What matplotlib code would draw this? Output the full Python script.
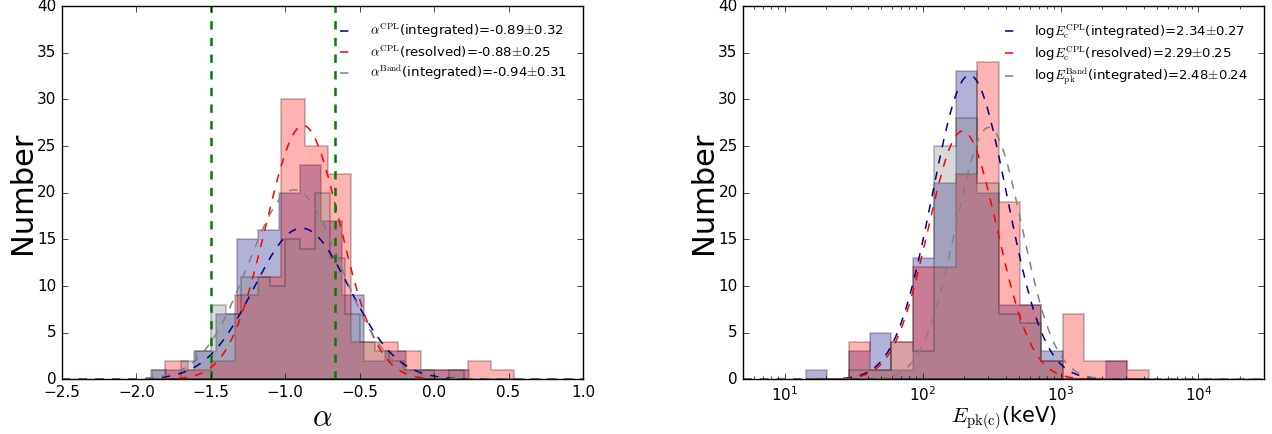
import numpy as np
import matplotlib
matplotlib.use("Agg")
import matplotlib.pyplot as plt
from matplotlib.colors import to_rgba

plt.style.use('classic')
plt.rcParams['figure.facecolor'] = 'white'
plt.rcParams['savefig.facecolor'] = 'white'

# ---- alpha distributions (bin edges + counts) ----
alpha_int_edges = np.linspace(-1.894, 0.236, 16)
alpha_int_counts = [1, 1, 3, 7, 15, 16, 20, 23, 17, 9, 2, 3, 1, 1, 1]
alpha_res_edges = np.linspace(-1.81, 0.54, 16)
alpha_res_counts = [2, 1, 2, 9, 11, 30, 25, 22, 4, 4, 3, 1, 1, 2, 1]
alpha_band_edges = np.linspace(-1.9, 0.2, 22)
alpha_band_counts = [1, 0, 2, 3, 8, 7, 11, 11, 10, 15, 14, 20, 13, 7, 4, 3, 2, 1, 1, 0, 1]

# gaussian fits: mean, sigma, peak height
alpha_fits = [(-0.89, 0.32, 16.2), (-0.88, 0.25, 27.2), (-0.94, 0.31, 20.3)]
alpha_labels = [r'$\alpha^{\rm CPL}$(integrated)=-0.89$\pm$0.32',
                r'$\alpha^{\rm CPL}$(resolved)=-0.88$\pm$0.25',
                r'$\alpha^{\rm Band}$(integrated)=-0.94$\pm$0.31']
death_lines = [-1.5, -2. / 3.]

# ---- Epk / Ec distributions (log10 bin edges + counts) ----
logE_edges = np.linspace(1.152, 3.638, 17)
E_int_counts = [1, 0, 3, 5, 1, 13, 21, 33, 20, 8, 8, 3, 0, 0, 2, 0]
E_res_counts = [0, 0, 4, 1, 4, 12, 12, 22, 34, 19, 8, 2, 7, 2, 2, 1]
E_band_counts = [0, 0, 1, 1, 4, 3, 25, 28, 21, 7, 6, 2, 0, 0, 0, 0]

E_fits = [(2.34, 0.27, 32.6), (2.29, 0.25, 26.6), (2.48, 0.24, 27.0)]
E_labels = [r'log$E_{\rm c}^{\rm CPL}$(integrated)=2.34$\pm$0.27',
            r'log$E_{\rm c}^{\rm CPL}$(resolved)=2.29$\pm$0.25',
            r'log$E_{\rm pk}^{\rm Band}$(integrated)=2.48$\pm$0.24']

fill_colors = ['navy', 'red', 'gray']
line_colors = ['darkblue', 'red', 'gray']
edge_color = (0, 0, 0, 0.25)


def gauss(x, mu, sig, amp):
    return amp * np.exp(-(x - mu) ** 2 / (2 * sig ** 2))


fig = plt.figure(figsize=(12.72, 4.34), dpi=100)
ax1 = fig.add_axes([0.0487, 0.126, 0.4096, 0.860])
ax2 = fig.add_axes([0.5843, 0.126, 0.4096, 0.860])

leg_kw = dict(loc='upper right', frameon=False, fontsize=9.5, handlelength=1.5,
              handletextpad=1.05, labelspacing=0.25, borderaxespad=0.8)

# left: alpha
hists = [(alpha_int_edges, alpha_int_counts),
         (alpha_res_edges, alpha_res_counts),
         (alpha_band_edges, alpha_band_counts)]
for (edges, counts), c in zip(hists, fill_colors):
    ax1.hist(edges[:-1], bins=edges, weights=counts, histtype='stepfilled',
             facecolor=to_rgba(c, 0.3), edgecolor=edge_color, linewidth=1.2)

xa = np.linspace(-2.5, 1.0, 600)
for (mu, sig, amp), c, lab in zip(alpha_fits, line_colors, alpha_labels):
    ax1.plot(xa, gauss(xa, mu, sig, amp), '--', color=c, lw=1.1, label=lab)
for xv in death_lines:
    ax1.axvline(xv, color='green', ls='--', lw=1.8)

ax1.set_xlim(-2.5, 1.0)
ax1.set_ylim(0, 40)
ax1.set_xlabel(r'$\alpha$', fontsize=22, labelpad=2)
ax1.set_ylabel('Number', fontsize=22, labelpad=0)
ax1.legend(**leg_kw)

# right: peak / cutoff energy
for counts, c in zip([E_int_counts, E_res_counts, E_band_counts], fill_colors):
    ax2.hist(10 ** logE_edges[:-1], bins=10 ** logE_edges, weights=counts,
             histtype='stepfilled', facecolor=to_rgba(c, 0.3),
             edgecolor=edge_color, linewidth=1.2)

lx = np.linspace(0.7, 4.5, 600)
for (mu, sig, amp), c, lab in zip(E_fits, line_colors, E_labels):
    ax2.plot(10 ** lx, gauss(lx, mu, sig, amp), '--', color=c, lw=1.1, label=lab)

ax2.set_xscale('log')
ax2.set_xlim(5, 3e4)
ax2.set_ylim(0, 40)
ax2.set_xlabel(r'$E_{\rm pk(c)}$(keV)', fontsize=15, labelpad=1)
ax2.set_ylabel('Number', fontsize=22, labelpad=0)
ax2.legend(**leg_kw)

for ax in (ax1, ax2):
    ax.tick_params(labelsize=11)

fig.savefig('out.png', dpi=100)
